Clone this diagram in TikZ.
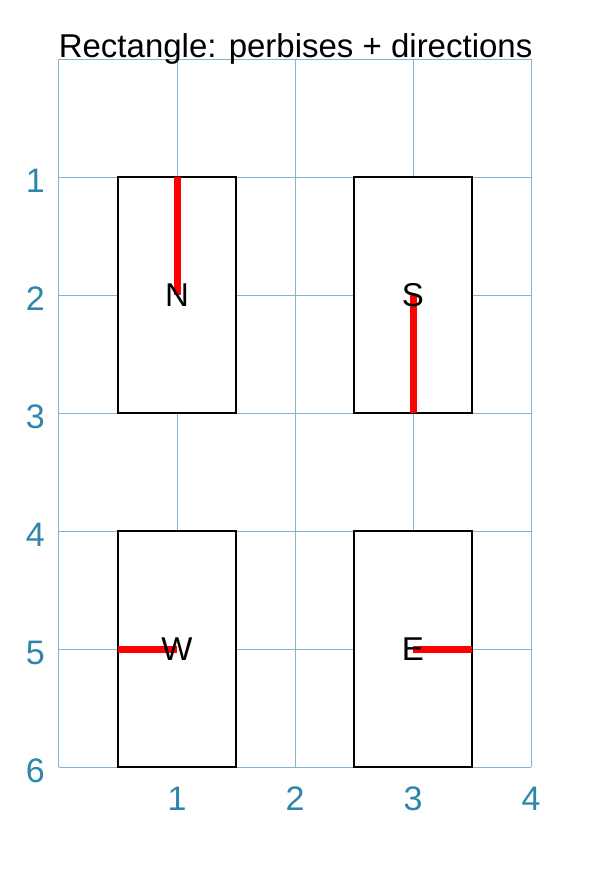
\documentclass[tikz,border=0pt]{standalone}
\usepackage{fontspec}
\setmainfont{Liberation Sans}
\definecolor{gridc}{HTML}{86B4CC}
\definecolor{tickc}{HTML}{2E86AB}
\begin{document}
\begin{tikzpicture}[x=118pt,y=-118pt,
  gridline/.style={draw=gridc,line width=1pt},
  tick/.style={text=tickc,font=\fontsize{34}{38}\selectfont,inner sep=0pt},
  box/.style={draw=black,fill=white,line width=1.6pt,minimum width=118pt,minimum height=236pt,inner sep=0pt,outer sep=0pt},
  bisect/.style={draw=red,line width=7pt},
  dirtext/.style={font=\fontsize{33}{38}\selectfont,inner sep=0pt},
  titletext/.style={font=\fontsize{33}{38}\selectfont,inner sep=0pt}]
\useasboundingbox[fill=white] (-0.5,-0.5) rectangle (4.6949,6.9153);
% grid
\foreach \i in {0,...,4} \draw[gridline] (\i,0) -- (\i,6);
\foreach \j in {0,...,6} \draw[gridline] (0,\j) -- (4,\j);
% tick labels
\foreach \j in {1,...,6} \node[tick] (ly\j) at (-0.2,\j+0.03) {\j};
\foreach \i in {1,...,4} \node[tick] (lx\i) at (\i,6.27) {\i};
% title
\node[titletext,anchor=base] (title) at (2.005,-0.01) {Rectangle: perbises + directions};
% boxes
\node[box] (bn) at (1,2) {};
\node[box] (bs) at (3,2) {};
\node[box] (bw) at (1,5) {};
\node[box] (be) at (3,5) {};
% bisectors
\draw[bisect] (bn.north) -- (bn.center);
\draw[bisect] (bs.center) -- (bs.south);
\draw[bisect] (bw.west) -- (bw.center);
\draw[bisect] (be.center) -- (be.east);
% direction letters
\node[dirtext] (tn) at (bn.center) {N};
\node[dirtext] (ts) at (bs.center) {S};
\node[dirtext] (tw) at (bw.center) {W};
\node[dirtext] (te) at (be.center) {E};
\end{tikzpicture}
\end{document}
